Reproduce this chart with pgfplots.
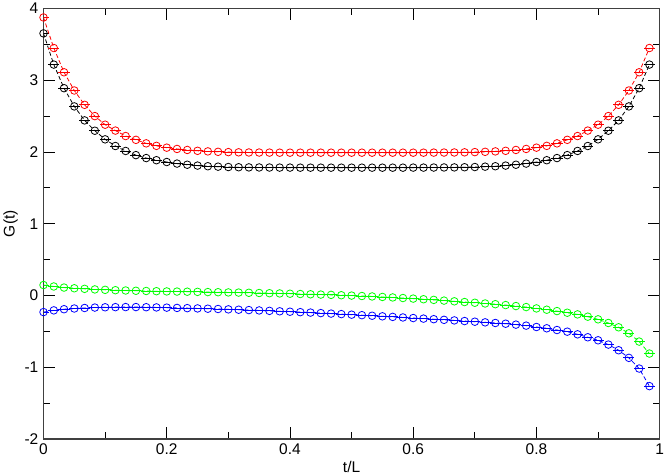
\documentclass[border=0pt]{standalone}
\usepackage{pgfplots}
\usepackage{pgfplotstable}
\pgfplotsset{compat=1.18}
\usepackage{fontspec}
\setmainfont{Liberation Sans}
\pgfplotstableread{
x blk red grn blu
0.0000 3.653 3.875 0.145 -0.232
0.0167 3.218 3.449 0.125 -0.208
0.0333 2.889 3.111 0.110 -0.192
0.0500 2.635 2.857 0.100 -0.182
0.0667 2.440 2.657 0.092 -0.175
0.0833 2.296 2.500 0.084 -0.169
0.1000 2.176 2.380 0.078 -0.165
0.1167 2.083 2.298 0.073 -0.163
0.1333 2.014 2.222 0.069 -0.162
0.1500 1.956 2.169 0.065 -0.162
0.1667 1.915 2.120 0.062 -0.164
0.1833 1.885 2.085 0.059 -0.167
0.2000 1.860 2.060 0.056 -0.170
0.2167 1.838 2.042 0.054 -0.174
0.2333 1.822 2.028 0.052 -0.177
0.2500 1.810 2.016 0.050 -0.181
0.2667 1.801 2.008 0.047 -0.185
0.2833 1.795 2.002 0.045 -0.189
0.3000 1.790 1.998 0.042 -0.194
0.3167 1.787 1.995 0.040 -0.199
0.3333 1.785 1.993 0.037 -0.204
0.3500 1.784 1.992 0.034 -0.209
0.3667 1.783 1.991 0.031 -0.215
0.3833 1.782 1.990 0.028 -0.221
0.4000 1.782 1.990 0.024 -0.227
0.4167 1.781 1.990 0.020 -0.233
0.4333 1.781 1.990 0.016 -0.239
0.4500 1.781 1.990 0.012 -0.246
0.4667 1.781 1.990 0.008 -0.253
0.4833 1.781 1.990 0.003 -0.260
0.5000 1.781 1.990 -0.002 -0.268
0.5167 1.781 1.990 -0.008 -0.275
0.5333 1.781 1.990 -0.014 -0.283
0.5500 1.781 1.990 -0.021 -0.291
0.5667 1.781 1.990 -0.028 -0.299
0.5833 1.781 1.990 -0.036 -0.307
0.6000 1.782 1.990 -0.044 -0.315
0.6167 1.782 1.990 -0.053 -0.323
0.6333 1.783 1.991 -0.062 -0.331
0.6500 1.784 1.992 -0.072 -0.340
0.6667 1.785 1.993 -0.082 -0.348
0.6833 1.787 1.995 -0.092 -0.357
0.7000 1.790 1.998 -0.102 -0.366
0.7167 1.795 2.002 -0.112 -0.375
0.7333 1.801 2.008 -0.122 -0.384
0.7500 1.810 2.016 -0.134 -0.394
0.7667 1.822 2.028 -0.148 -0.407
0.7833 1.838 2.042 -0.162 -0.421
0.8000 1.860 2.060 -0.181 -0.440
0.8167 1.885 2.085 -0.199 -0.458
0.8333 1.915 2.120 -0.218 -0.482
0.8500 1.956 2.169 -0.241 -0.505
0.8667 2.014 2.222 -0.264 -0.542
0.8833 2.083 2.298 -0.296 -0.583
0.9000 2.176 2.380 -0.333 -0.625
0.9167 2.296 2.500 -0.384 -0.685
0.9333 2.440 2.657 -0.444 -0.764
0.9500 2.635 2.857 -0.528 -0.870
0.9667 2.889 3.111 -0.643 -1.019
0.9833 3.218 3.449 -0.810 -1.264
}\data
\definecolor{gGreen}{rgb}{0,1,0}
\definecolor{gRed}{rgb}{1,0,0}
\definecolor{gBlue}{rgb}{0,0,1}
\begin{document}
\begin{tikzpicture}
\begin{axis}[
  scale only axis,
  width=617pt, height=431pt,
  xmin=0, xmax=1, ymin=-2, ymax=4,
  xtick={0,0.2,0.4,0.6,0.8,1},
  xticklabels={0,0.2,0.4,0.6,0.8,1},
  minor xtick={0.1,0.3,0.5,0.7,0.9},
  ytick={-2,-1,0,1,2,3,4},
  yticklabels={-2,-1,0,1,2,3,4},
  minor ytick={-1.5,-0.5,0.5,1.5,2.5,3.5},
  tick align=inside, tick pos=both,
  major tick length=12pt, minor tick length=7pt,
  every tick/.style={black, line width=0.9pt},
  axis line style={line width=1.4pt, black!75},
  tick label style={font=\fontsize{15.5}{18}\selectfont, inner sep=0pt},
  yticklabel style={xshift=-5pt},
  xticklabel style={yshift=-5pt},
  xlabel={t/L}, ylabel={G(t)},
  label style={font=\fontsize{15.5}{18}\selectfont},
  xlabel style={at={(axis description cs:0.5,0)}, anchor=center, yshift=-28pt},
  ylabel style={at={(axis description cs:-0.0535,0.5)}, anchor=center},
  every axis plot/.append style={line width=0.8pt, dash pattern=on 4pt off 2.5pt,
     mark=o, mark size=3.8pt, mark options={solid, line width=0.8pt},
     error bars/x dir=both, error bars/x fixed=0.009, error bars/error mark=none,
     error bars/error bar style={solid, line width=0.8pt}},
]
\addplot[black] table[x=x, y=blk] {\data};
\addplot[gRed] table[x=x, y=red] {\data};
\addplot[gGreen] table[x=x, y=grn] {\data};
\addplot[gBlue] table[x=x, y=blu] {\data};
\end{axis}
\path ([yshift=8.5pt]current axis.north);
\end{tikzpicture}
\end{document}
